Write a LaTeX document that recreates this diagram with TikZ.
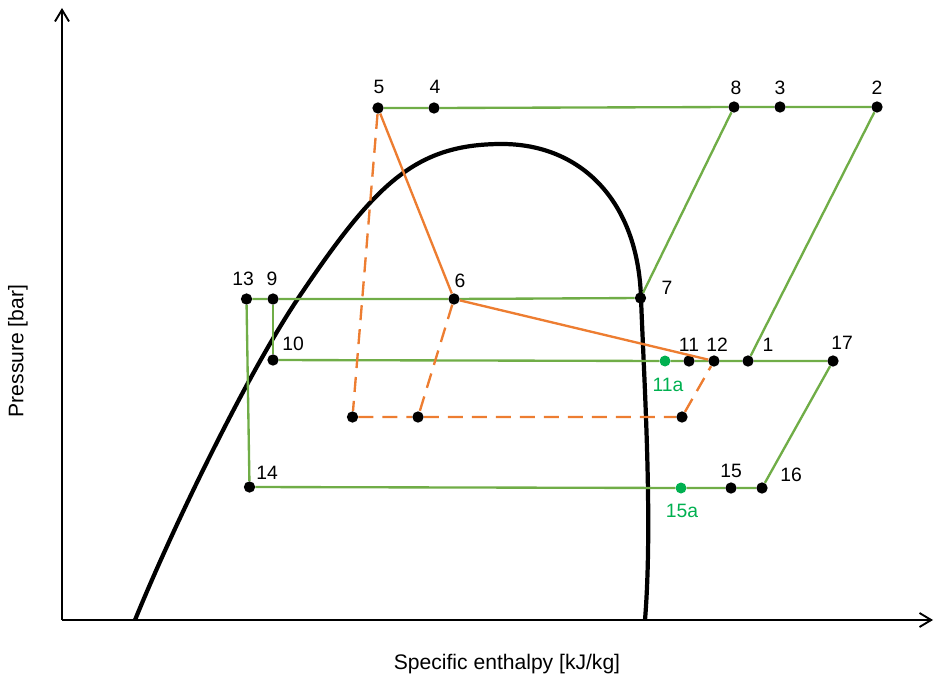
\documentclass[tikz,border=0pt]{standalone}
\usepackage{fontspec}
\setmainfont{Liberation Sans}
\usepackage{xcolor}
\definecolor{cyclegreen}{RGB}{112, 173, 71}
\definecolor{cycleorange}{RGB}{237, 125, 49}
\definecolor{pointgreen}{RGB}{0, 176, 80}
\usetikzlibrary{arrows.meta}

\begin{document}
\begin{tikzpicture}[x=0.03cm, y=-0.03cm,
    statept/.style={circle, fill=black, inner sep=0pt, minimum size=0.34cm},
    midpt/.style={circle, fill=pointgreen, inner sep=0pt, minimum size=0.33cm},
    num/.style={inner sep=0pt, font=\fontsize{16.5}{18}\selectfont},
    axislabel/.style={inner sep=0pt, font=\fontsize{18}{20}\selectfont},
    greenline/.style={draw=cyclegreen, line width=2pt},
    orangeline/.style={draw=cycleorange, line width=2pt},
    orangedash/.style={orangeline, dash pattern=on 0.45cm off 0.27cm}]
    \useasboundingbox (0,0) rectangle (934,677);
    % Axes
    \coordinate (origin) at (62,620);
    \coordinate (ytip) at (62,8);
    \coordinate (xtip) at (933,620);
    \draw[line width=1.6pt, -{Straight Barb[length=3.5mm, width=4.2mm]}] (origin) -- (ytip);
    \draw[line width=1.6pt, -{Straight Barb[length=3.5mm, width=4.2mm]}] (origin) -- (xtip);
    \node[axislabel] (xlab) at (507,664) {Specific enthalpy [kJ/kg]};
    \node[axislabel, rotate=90] (ylab) at (18,351) {Pressure [bar]};
    % Saturation dome
    \draw[line width=3.6pt] (135,620) .. controls (175,522) and (249,371) .. (299,297)
      .. controls (375,184) and (415,144) .. (502,144)
      .. controls (580,144) and (638,200) .. (641,298)
      .. controls (644,380) and (653,520) .. (645,620);
    % State points
    \node[statept] (p5) at (378,108) {};
    \node[statept] (p4) at (434,108) {};
    \node[statept] (p8) at (734,107) {};
    \node[statept] (p3) at (780,107) {};
    \node[statept] (p2) at (877,107) {};
    \node[statept] (p13) at (246.5,299) {};
    \node[statept] (p9) at (273,299) {};
    \node[statept] (p6) at (454,299) {};
    \node[statept] (p7) at (640.5,298) {};
    \node[statept] (p10) at (273,360) {};
    \node[midpt] (p11a) at (665,361) {};
    \node[statept] (p11) at (689,361) {};
    \node[statept] (p12) at (714,361) {};
    \node[statept] (p1) at (748,361) {};
    \node[statept] (p17) at (833,361) {};
    \node[statept] (d1) at (352.5,417) {};
    \node[statept] (d2) at (418,417) {};
    \node[statept] (d3) at (682,417) {};
    \node[statept] (p14) at (249.5,487) {};
    \node[midpt] (p15a) at (681,488) {};
    \node[statept] (p15) at (731,488) {};
    \node[statept] (p16) at (762,488) {};
    % Point labels
    \node[num] (l5) at (379,87) {5};
    \node[num] (l4) at (435,87) {4};
    \node[num] (l8) at (736,88) {8};
    \node[num] (l3) at (780,88) {3};
    \node[num] (l2) at (877,88) {2};
    \node[num] (l13) at (243,279) {13};
    \node[num] (l9) at (272,279) {9};
    \node[num] (l6) at (460,281) {6};
    \node[num] (l7) at (667,288) {7};
    \node[num] (l10) at (293,344) {10};
    \node[num] (l11) at (689,345) {11};
    \node[num] (l12) at (717,345) {12};
    \node[num] (l1) at (768,345) {1};
    \node[num] (l17) at (842,343) {17};
    \node[num, text=pointgreen] (l11a) at (668,385) {11a};
    \node[num] (l14) at (267,473) {14};
    \node[num] (l15) at (731,471) {15};
    \node[num] (l16) at (791,475) {16};
    \node[num, text=pointgreen] (l15a) at (682,511) {15a};
    % Green cycle lines
    \draw[greenline] (p5) -- (p4) -- (p8) -- (p3) -- (p2);
    \draw[greenline] (p2) -- (p1);
    \draw[greenline] (p8) -- (p7);
    \draw[greenline] (p13) -- (p9) -- (p6) -- (p7);
    \draw[greenline] (p13) -- (p14);
    \draw[greenline] (p9) -- (p10);
    \draw[greenline] (p10) -- (p11a) -- (p11) -- (p12) -- (p1) -- (p17);
    \draw[greenline] (p17) -- (p16);
    \draw[greenline] (p14) -- (p15a) -- (p15) -- (p16);
    % Orange lines
    \draw[orangeline] (p5) -- (p6) -- (p12);
    \draw[orangedash] (p5) -- (d1);
    \draw[orangedash] (d1) -- (d2) -- (d3) -- (p12);
    \draw[orangedash] (p6) -- (d2);
\end{tikzpicture}
\end{document}
